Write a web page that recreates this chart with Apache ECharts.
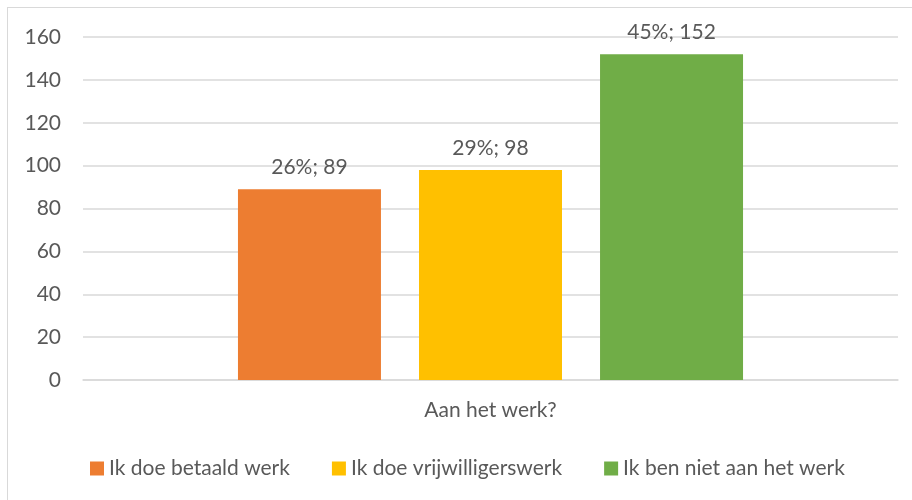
<!DOCTYPE html>
<html>
<head>
<meta charset="utf-8">
<script src="https://cdn.jsdelivr.net/npm/echarts@6/dist/echarts.min.js"></script>
<style>
  html, body { margin: 0; padding: 0; background: #fff; }
  #frame { position: absolute; left: 7px; top: 7px; width: 920px; height: 520px; border: 1.5px solid #d9d9d9; box-sizing: border-box; }
  #chart { position: absolute; left: 0; top: 0; width: 912px; height: 500px; }
</style>
</head>
<body>
<div id="frame"></div>
<div id="chart"></div>
<script>
// Werkstatus van respondenten
const categories = ['Aan het werk?'];
const seriesNames = ['Ik doe betaald werk', 'Ik doe vrijwilligerswerk', 'Ik ben niet aan het werk'];
const counts = [89, 98, 152];
const percents = ['26%', '29%', '45%'];
const colors = ['#ED7D31', '#FFC000', '#70AD47'];
const yTicks = { min: 0, max: 160, interval: 20 };

const FONT = 'Lato, "Open Sans", sans-serif';
const TEXT = '#595959';
const SIZE = 21;

const chart = echarts.init(document.getElementById('chart'), null, { renderer: 'canvas' });

const series = seriesNames.map((name, i) => ({
  name: name,
  type: 'bar',
  data: [counts[i]],
  barWidth: 143,
  barGap: '26.6%',
  itemStyle: { color: colors[i] },
  label: {
    show: true,
    position: 'top',
    distance: 11,
    color: TEXT,
    fontFamily: FONT,
    fontSize: SIZE,
    formatter: () => percents[i] + '; ' + counts[i]
  }
}));

chart.setOption({
  animation: false,
  textStyle: { fontFamily: FONT },
  grid: { left: 83, right: 14, top: 37, bottom: 120 },
  legend: {
    data: seriesNames,
    top: 453,
    left: 85,
    icon: 'rect',
    itemWidth: 14,
    itemHeight: 14,
    itemGap: 42,
    textStyle: { color: TEXT, fontSize: SIZE, fontFamily: FONT }
  },
  xAxis: {
    type: 'category',
    data: categories,
    axisLine: { lineStyle: { color: '#d9d9d9', width: 1.5 } },
    axisTick: { show: false },
    axisLabel: { color: TEXT, fontSize: SIZE, fontFamily: FONT, margin: 20 }
  },
  yAxis: {
    type: 'value',
    min: yTicks.min,
    max: yTicks.max,
    interval: yTicks.interval,
    axisLine: { show: false },
    axisTick: { show: false },
    axisLabel: { color: TEXT, fontSize: SIZE, fontFamily: FONT, margin: 22 },
    splitLine: { lineStyle: { color: '#d9d9d9', width: 1.5 } }
  },
  series: series
});
</script>
</body>
</html>
